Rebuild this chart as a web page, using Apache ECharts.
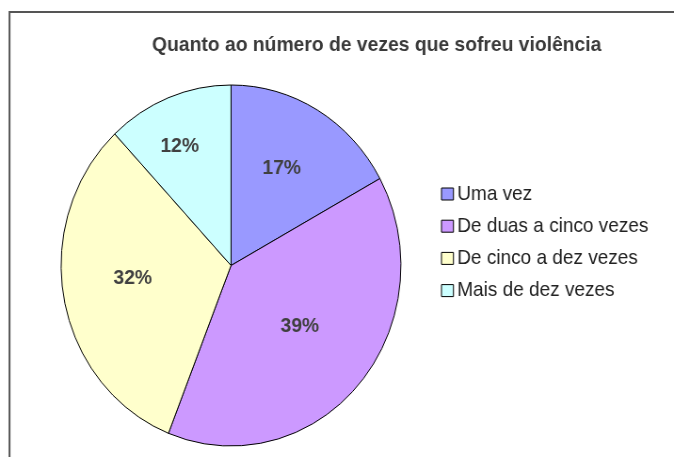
<!DOCTYPE html>
<html>
<head>
<meta charset="utf-8">
<script src="https://cdn.jsdelivr.net/npm/echarts@6/dist/echarts.min.js"></script>
<style>
html,body{margin:0;padding:0;background:#fff;overflow:hidden;}
#wrap{width:674px;height:457px;overflow:hidden;position:relative;}
#c{width:716px;height:457px;transform:scaleX(0.9413);transform-origin:0 0;}
</style>
</head>
<body>
<div id="wrap"><div id="c"></div></div>
<script>
const categories = ['Uma vez', 'De duas a cinco vezes', 'De cinco a dez vezes', 'Mais de dez vezes'];
const values = [17, 39, 32, 12];
const colors = ['#9999FF', '#CC99FF', '#FFFFCC', '#CCFFFF'];
const titleText = 'Quanto ao número de vezes que sofreu violência';

const SX = 0.9413; // horizontal squash so the circular pie becomes the reference's ellipse
// small nudges of the in-slice labels, as Excel places them
const labelNudge = [[6, -17], [3, -1], [-12, -5], [-19, -32]];
const chart = echarts.init(document.getElementById('c'));
chart.setOption({
  animation: false,
  backgroundColor: '#ffffff',
  title: {
    text: titleText,
    left: 372 / SX, top: 30, textAlign: 'center',
    textStyle: { fontFamily: 'Liberation Sans, Arial', fontWeight: 'bold', fontSize: 20.5, color: '#3a3a3a' }
  },
  graphic: [{
    type: 'rect', shape: { x: 9.5 / SX, y: 12, width: 760, height: 500 },
    style: { fill: 'none', stroke: '#555555', lineWidth: 2 }, silent: true
  }],
  legend: {
    orient: 'vertical', left: 441 / SX, top: 184, padding: 0,
    itemWidth: 12 / SX, itemHeight: 12, itemGap: 12.2,
    icon: 'rect',
    itemStyle: { borderColor: '#000', borderWidth: 1 },
    textStyle: { fontFamily: 'Liberation Sans, Arial', fontSize: 20.2, color: '#222', lineHeight: 19, padding: [0,0,0,-1] },
    data: categories
  },
  series: [{
    type: 'pie',
    center: [231 / SX, 265.5],
    radius: 180.5,
    startAngle: 90,
    clockwise: true,
    silent: true,
    itemStyle: { borderColor: '#000', borderWidth: 1 },
    label: {
      show: true, position: 'inside',
      formatter: '{c}%',
      fontFamily: 'Liberation Sans, Arial', fontWeight: 'bold', fontSize: 20.5, color: '#404040'
    },
    labelLayout: function (p) {
      const n = labelNudge[p.dataIndex];
      return { dx: n[0] / SX, dy: n[1] };
    },
    labelLine: { show: false },
    data: categories.map((n, i) => ({ name: n, value: values[i], itemStyle: { color: colors[i] } }))
  }]
});
</script>
</body>
</html>
